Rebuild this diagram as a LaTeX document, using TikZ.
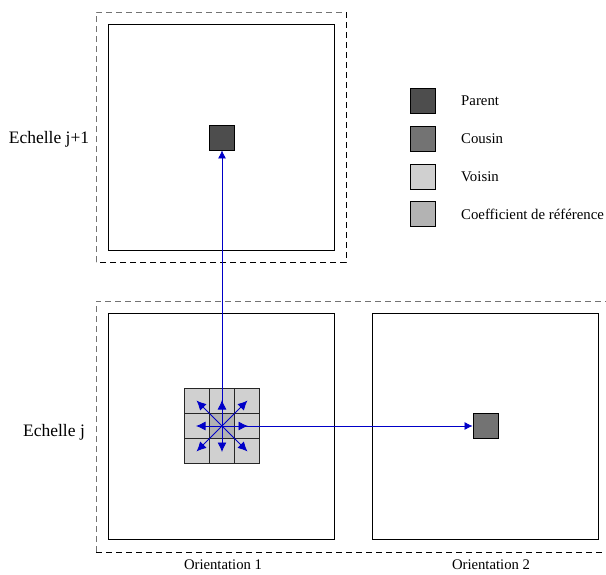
\documentclass[tikz,border=0pt]{standalone}
\usepackage{fontspec}
\setmainfont{Liberation Serif}
\usetikzlibrary{arrows.meta}
\definecolor{parentc}{HTML}{4D4D4D}
\definecolor{cousinc}{HTML}{737373}
\definecolor{voisinc}{HTML}{D0D0D0}
\definecolor{refc}{HTML}{B3B3B3}
\definecolor{arrc}{HTML}{0000C8}
\begin{document}
\begin{tikzpicture}[x=1pt,y=-1pt,
  frame/.style={draw=black,line width=0.9pt},
  dashg/.style={draw=black!55,dash pattern=on 6pt off 4pt,line width=0.9pt},
  dashk/.style={draw=black,dash pattern=on 6pt off 4pt,line width=0.9pt},
  cell/.style={draw=black!85,line width=1.2pt,minimum size=25pt,inner sep=0pt,outer sep=0pt},
  sq/.style={draw=black,line width=0.9pt,minimum size=25pt,inner sep=0pt},
  arr/.style={draw=arrc,line width=0.7pt,-{Latex[length=8pt,width=8pt]}},
  arrs/.style={draw=arrc,line width=0.8pt,-{Latex[length=9.5pt,width=9pt]}},
  lab/.style={font=\fontsize{17.5}{20}\selectfont,inner sep=0pt},
  olab/.style={font=\fontsize{14.7}{17}\selectfont,inner sep=0pt},
  leg/.style={font=\fontsize{14.8}{17}\selectfont,inner sep=0pt,anchor=west}]
\useasboundingbox (0,0) rectangle (606,574);
% dashed groups
\draw[dashg] (96,262) -- (96,12) -- (346,12);
\draw[dashk] (346,12) -- (346,262) -- (96,262);
\draw[dashg] (96,552) -- (96,301) -- (606,301);
\draw[dashk] (96,552) -- (606,552);
% frames
\draw[frame] (108,24) rectangle (334,250);
\draw[frame] (108,313) rectangle (334,539);
\draw[frame] (372,313) rectangle (598,539);
% parent and cousin
\node[sq,fill=parentc] (parent) at (222,137.5) {};
\node[sq,fill=cousinc] (cousin) at (485.5,426) {};
% grid
\foreach \i in {-1,0,1}{\foreach \j in {-1,0,1}{
  \node[cell,fill=voisinc] (c\i\j) at (222+25*\i,426+25*\j) {};}}
\node[cell,fill=refc] (ref) at (222,426) {};
\coordinate (ctr) at (222,426);
% arrows
\draw[arr] (ctr) -- (parent.south);
\draw[arr] (ctr) -- (cousin.west);
\foreach \a in {0,45,...,315}{
  \draw[arrs] (ctr) -- ++(\a:{ifthenelse(mod(\a,90)==0,26,36)});}
% labels
\node[lab] (l1) at (49,139) {Echelle j+1};
\node[lab] (l2) at (54,432) {Echelle j};
\node[olab] (o1) at (223,565) {Orientation 1};
\node[olab] (o2) at (491,565) {Orientation 2};
% legend
\node[sq,fill=parentc] (k1) at (422.5,100.5) {};
\node[sq,fill=cousinc] (k2) at (422.5,138.5) {};
\node[sq,fill=voisinc] (k3) at (422.5,176.5) {};
\node[sq,fill=refc] (k4) at (422.5,213.5) {};
\node[leg] (t1) at (461,101) {Parent};
\node[leg] (t2) at (461,139) {Cousin};
\node[leg] (t3) at (461,177) {Voisin};
\node[leg] (t4) at (461,214) {Coefficient de référence};
\end{tikzpicture}
\end{document}
